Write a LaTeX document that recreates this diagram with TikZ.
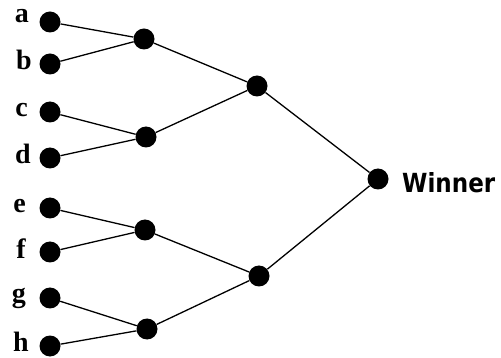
\documentclass[tikz,border=0pt]{standalone}
\usepackage{fontspec}
\usepackage{graphicx}
\setmainfont{Liberation Serif}
\newfontfamily\winfont{DejaVu Sans}
\begin{document}
\begin{tikzpicture}[x=1pt,y=-1pt,
  dot/.style={circle,fill=black,draw=none,minimum size=21pt,inner sep=0pt},
  lbl/.style={anchor=mid east,inner sep=0pt,font=\fontsize{28}{28}\selectfont\bfseries},
  edge/.style={draw=black,line width=1.3pt}]
\useasboundingbox (0,0) rectangle (501,358);
\node[dot] (a) at (50,22) {};
\node[dot] (b) at (50,64) {};
\node[dot] (c) at (50,112) {};
\node[dot] (d) at (50,158) {};
\node[dot] (e) at (50,208) {};
\node[dot] (f) at (50,252) {};
\node[dot] (g) at (50,298) {};
\node[dot] (h) at (50,346) {};
\node[dot] (ab) at (144,39) {};
\node[dot] (cd) at (146,137) {};
\node[dot] (ef) at (145,230) {};
\node[dot] (gh) at (147,329) {};
\node[dot] (abcd) at (257,86) {};
\node[dot] (efgh) at (259,276) {};
\node[dot] (w) at (378,179) {};
\node[lbl] (la) at (29,20) {a};
\node[lbl] (lb) at (32,67) {b};
\node[lbl] (lc) at (28,114) {c};
\node[lbl] (ld) at (31,161) {d};
\node[lbl] (le) at (26,210) {e};
\node[lbl] (lf) at (26,256) {f};
\node[lbl] (lg) at (26,300) {g};
\node[lbl] (lh) at (29,349) {h};
\node[anchor=base west,inner sep=0pt] (win) at (402,193) {\resizebox{93pt}{20pt}{\winfont\bfseries Winner}};
\draw[edge] (a) -- (ab);
\draw[edge] (b) -- (ab);
\draw[edge] (c) -- (cd);
\draw[edge] (d) -- (cd);
\draw[edge] (e) -- (ef);
\draw[edge] (f) -- (ef);
\draw[edge] (g) -- (gh);
\draw[edge] (h) -- (gh);
\draw[edge] (ab) -- (abcd);
\draw[edge] (cd) -- (abcd);
\draw[edge] (ef) -- (efgh);
\draw[edge] (gh) -- (efgh);
\draw[edge] (abcd) -- (w);
\draw[edge] (efgh) -- (w);
\end{tikzpicture}
\end{document}
